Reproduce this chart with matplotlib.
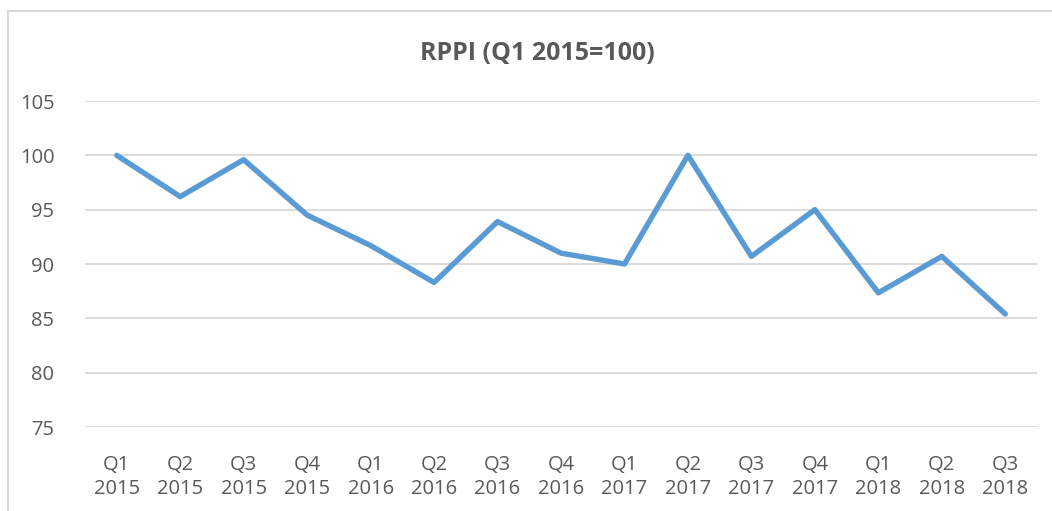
import matplotlib
matplotlib.use("Agg")
import matplotlib.pyplot as plt
from matplotlib.lines import Line2D

quarters = ["Q1", "Q2", "Q3", "Q4", "Q1", "Q2", "Q3", "Q4",
            "Q1", "Q2", "Q3", "Q4", "Q1", "Q2", "Q3"]
years = ["2015", "2015", "2015", "2015", "2016", "2016", "2016", "2016",
         "2017", "2017", "2017", "2017", "2018", "2018", "2018"]
rppi = [100.0, 96.2, 99.6, 94.5, 91.7, 88.3, 93.9, 91.0,
        90.0, 100.0, 90.7, 95.0, 87.35, 90.7, 85.4]
y_ticks = [75, 80, 85, 90, 95, 100, 105]

TEXT = "#595959"
GRID = "#d9d9d9"
LINE = "#5b9bd5"

plt.rcParams["font.family"] = ["Open Sans", "DejaVu Sans"]

fig = plt.figure(figsize=(10.52, 5.11), dpi=100)
ax = fig.add_axes([85 / 1052, 1 - 427 / 511, (1037 - 85) / 1052, (427 - 101) / 511])

positions = list(range(len(rppi)))
ax.plot(positions, rppi, color=LINE, linewidth=3.9,
        solid_joinstyle="round", solid_capstyle="round", zorder=3)

ax.set_xlim(-0.5, len(rppi) - 0.5)
ax.set_ylim(75, 105)
ax.set_yticks(y_ticks)
ax.set_xticks(positions, [f"{q}\n{y}" for q, y in zip(quarters, years)])
ax.grid(axis="y", color=GRID, linewidth=1.3)
ax.set_axisbelow(True)
for side in ("top", "right", "left", "bottom"):
    ax.spines[side].set_visible(False)
ax.tick_params(length=0, labelsize=14.5, colors=TEXT)
ax.tick_params(axis="y", pad=22)
ax.tick_params(axis="x", pad=20)
for label in ax.get_xticklabels():
    label.set_linespacing(1.3)

fig.text(537 / 1052, 1 - 53 / 511, "RPPI (Q1 2015=100)", ha="center", va="center",
         fontsize=18, fontweight="bold", color=TEXT)

# chart-area border (top and left edges visible in the crop)
fig.add_artist(Line2D([8 / 1052, 1], [1 - 11 / 511, 1 - 11 / 511],
                      transform=fig.transFigure, color=GRID, linewidth=1.5))
fig.add_artist(Line2D([8 / 1052, 8 / 1052], [0, 1 - 11 / 511],
                      transform=fig.transFigure, color=GRID, linewidth=1.5))

fig.savefig("out.png", dpi=100, facecolor="white")
